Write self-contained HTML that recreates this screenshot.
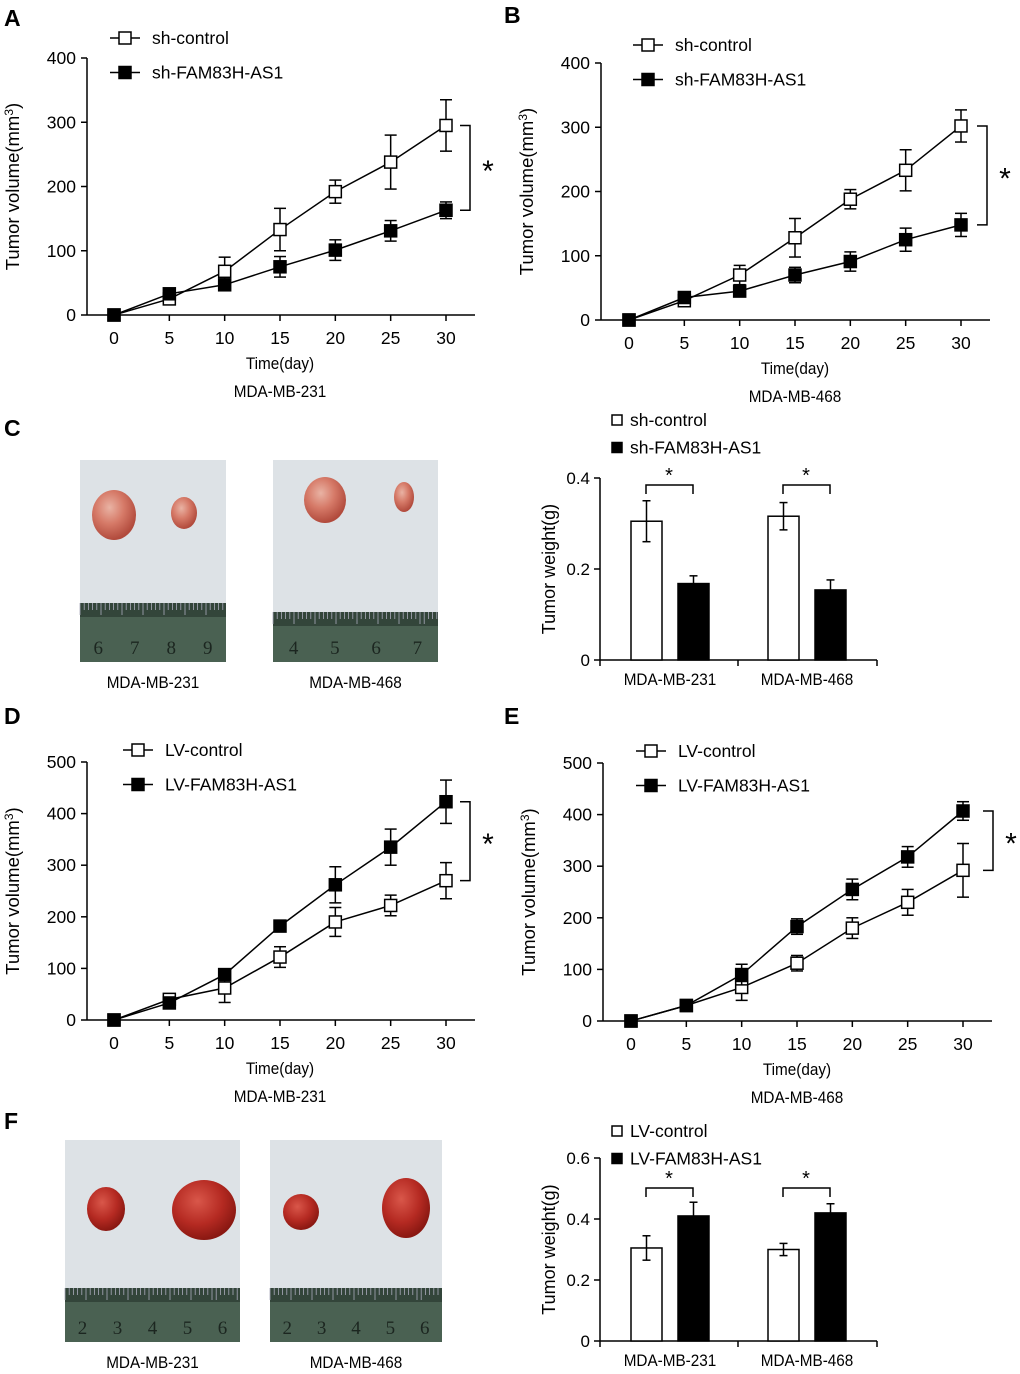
<!DOCTYPE html>
<html><head><meta charset="utf-8"><style>
html,body{margin:0;padding:0;background:#fff;}
svg{display:block;font-family:"Liberation Sans",Arial,sans-serif;}
</style></head><body>
<svg id="fig" width="1020" height="1374" viewBox="0 0 1020 1374" xmlns="http://www.w3.org/2000/svg">
<defs>
<radialGradient id="tum" cx="40%" cy="35%" r="65%"><stop offset="0" stop-color="#e9b3a4"/><stop offset="0.5" stop-color="#d67a68"/><stop offset="1" stop-color="#b14a3c"/></radialGradient>
<radialGradient id="tum2" cx="40%" cy="35%" r="65%"><stop offset="0" stop-color="#d9574a"/><stop offset="0.6" stop-color="#b52a22"/><stop offset="1" stop-color="#8a1812"/></radialGradient>
</defs>
<g font-weight="bold" font-size="23">
<text x="4" y="26">A</text><text x="504" y="23">B</text><text x="4" y="436">C</text><text x="4" y="724">D</text><text x="504" y="724">E</text><text x="4" y="1129">F</text>
</g>
</svg>
<script>
const days = [0,5,10,15,20,25,30];
const xTicks = [0,5,10,15,20,25,30];
// Panel A
const aCtrl = [0,25,68,133,192,238,295];
const aCtrlErr = [0,5,22,33,18,42,40];
const aSh = [0,33,47,75,101,131,163];
const aShErr = [0,5,6,16,16,16,13];
const aYTicks = [0,100,200,300,400];
// Panel B
const bCtrl = [0,30,70,128,188,233,302];
const bCtrlErr = [0,6,15,30,15,32,25];
const bSh = [0,35,45,70,91,125,148];
const bShErr = [0,8,8,12,15,18,18];
const bYTicks = [0,100,200,300,400];
// Panel D
const dCtrl = [0,40,62,122,190,222,270];
const dCtrlErr = [0,5,28,20,28,20,35];
const dLv = [0,33,88,182,262,335,423];
const dLvErr = [0,5,10,10,35,35,42];
const dYTicks = [0,100,200,300,400,500];
// Panel E
const eCtrl = [0,30,65,112,180,230,292];
const eCtrlErr = [0,3,25,15,20,25,52];
const eLv = [0,30,90,183,255,318,407];
const eLvErr = [0,3,20,15,20,20,18];
const eYTicks = [0,100,200,300,400,500];
// Panel C bars
const cGroups = ['MDA-MB-231','MDA-MB-468'];
const cCtrl = [0.305,0.316];
const cCtrlErr = [0.045,0.03];
const cSh = [0.168,0.154];
const cShErr = [0.017,0.022];
const cYTicks = [0,0.2,0.4];
const cYLabels = ['0','0.2','0.4'];
// Panel F bars
const fCtrl = [0.305,0.30];
const fCtrlErr = [0.04,0.02];
const fLv = [0.41,0.42];
const fLvErr = [0.045,0.03];
const fYTicks = [0,0.2,0.4,0.6];
const fYLabels = ['0','0.2','0.4','0.6'];

const NS='http://www.w3.org/2000/svg';
const svg=document.getElementById('fig');
function mk(tag,attrs,parent){const e=document.createElementNS(NS,tag);for(const k in attrs)e.setAttribute(k,attrs[k]);(parent||svg).appendChild(e);return e;}
function txt(parent,x,y,s,size,anchor){const t=mk('text',{x:x,y:y,'font-size':size||16,'text-anchor':anchor||'middle'},parent);t.textContent=s;return t;}

function lineChart(name,g,s1,e1,s2,e2,yTicks,yMax,labels,xlab){
  const grp=mk('g',{});
  
  
  const X=v=>g.x0+(v-0)/30*(g.x30-g.x0);
  const Y=v=>g.y0-v/yMax*(g.y0-g.yTop);
  const ya=mk('line',{x1:g.ax,y1:g.yTop,x2:g.ax,y2:g.y0,stroke:'#000','stroke-width':1.5},grp);
  
  
  const xa=mk('line',{x1:g.ax,y1:g.y0,x2:g.xEnd,y2:g.y0,stroke:'#000','stroke-width':1.5},grp);
  
  
  yTicks.forEach(v=>{mk('line',{x1:g.ax-6,y1:Y(v),x2:g.ax,y2:Y(v),stroke:'#000','stroke-width':1.5},grp);
    const t=txt(grp,g.ax-11,Y(v)+6,String(v),17.5,'end');
    
    });
  xTicks.forEach(v=>{mk('line',{x1:X(v),y1:g.y0,x2:X(v),y2:g.y0+6,stroke:'#000','stroke-width':1.5},grp);
    const t=txt(grp,X(v),g.y0+29,String(v),17.5);
    
    });
  const xt=txt(grp,(X(0)+X(30))/2,g.y0+54,'Time(day)',17);
  
  
  xt.setAttribute('transform','scale(0.9,1)');xt.setAttribute('x',(X(0)+X(30))/2/0.9);
  const cl=txt(grp,(X(0)+X(30))/2,g.y0+82,xlab,17);
  
  
  cl.setAttribute('transform','scale(0.9,1)');cl.setAttribute('x',(X(0)+X(30))/2/0.9);
  const yt=mk('text',{x:0,y:0,'font-size':18.5,'text-anchor':'middle',transform:`translate(${g.ax-68},${(g.yTop+g.y0)/2}) rotate(-90)`},grp);
  yt.innerHTML='Tumor volume(mm<tspan dy="-6" font-size="12">3</tspan><tspan dy="6">)</tspan>';
  
  
  function series(vals,errs,filled,sname){
    const sg=mk('g',{},grp);
    
    
    mk('polyline',{points:days.map((d,i)=>X(d)+','+Y(vals[i])).join(' '),fill:'none',stroke:'#000','stroke-width':1.5},sg);
    days.forEach((d,i)=>{const x=X(d),y1=Y(vals[i]+errs[i]),y2=Y(vals[i]-errs[i]);
      if(errs[i]>0){mk('line',{x1:x,y1:y1,x2:x,y2:y2,stroke:'#000','stroke-width':1.5},sg);
      mk('line',{x1:x-6,y1:y1,x2:x+6,y2:y1,stroke:'#000','stroke-width':1.5},sg);
      mk('line',{x1:x-6,y1:y2,x2:x+6,y2:y2,stroke:'#000','stroke-width':1.5},sg);}
      const m=mk('rect',{x:x-6,y:Y(vals[i])-6,width:12,height:12,fill:filled?'#000':'#fff',stroke:'#000','stroke-width':1.5},sg);
      
      });
  }
  series(s1,e1,false,'series-control');
  series(s2,e2,true,'series-treatment');
  [[labels[0],false],[labels[1],true]].forEach((l,i)=>{const ly=g.legY+i*34.5;
    const lg=mk('g',{},grp);
    
    
    mk('line',{x1:g.legX-15,y1:ly,x2:g.legX+15,y2:ly,stroke:'#000','stroke-width':1.5},lg);
    mk('rect',{x:g.legX-6,y:ly-6,width:12,height:12,fill:l[1]?'#000':'#fff',stroke:'#000','stroke-width':1.5},lg);
    txt(lg,g.legX+27,ly+6,l[0],17.5,'start');});
  const bx=g.bx,b1=Y(s1[6]),b2=Y(s2[6]);
  const br=mk('polyline',{points:`${bx-10},${b1} ${bx},${b1} ${bx},${b2} ${bx-10},${b2}`,fill:'none',stroke:'#000','stroke-width':1.5},grp);
  
  
  const st=txt(grp,bx+18,(b1+b2)/2+13,'*',30);
  
  
}
lineChart('chart-a',{ax:87,x0:114,x30:446,xEnd:475,y0:315,yTop:58,legX:125,legY:38,bx:470},aCtrl,aCtrlErr,aSh,aShErr,aYTicks,400,['sh-control','sh-FAM83H-AS1'],'MDA-MB-231');
lineChart('chart-b',{ax:601,x0:629,x30:961,xEnd:990,y0:320,yTop:63,legX:648,legY:45,bx:987},bCtrl,bCtrlErr,bSh,bShErr,bYTicks,400,['sh-control','sh-FAM83H-AS1'],'MDA-MB-468');
lineChart('chart-d',{ax:87,x0:114,x30:446,xEnd:475,y0:1020,yTop:762,legX:138,legY:750,bx:470},dCtrl,dCtrlErr,dLv,dLvErr,dYTicks,500,['LV-control','LV-FAM83H-AS1'],'MDA-MB-231');
lineChart('chart-e',{ax:603,x0:631,x30:963,xEnd:992,y0:1021,yTop:763,legX:651,legY:751,bx:993},eCtrl,eCtrlErr,eLv,eLvErr,eYTicks,500,['LV-control','LV-FAM83H-AS1'],'MDA-MB-468');

function barChart(name,g,c,ce,t,te,yTicks,yLabels,yMax,labels){
  const grp=mk('g',{});
  
  
  const Y=v=>g.y0-v/yMax*(g.y0-g.yTop);
  const ya=mk('line',{x1:600,y1:g.yTop,x2:600,y2:g.y0,stroke:'#000','stroke-width':1.5},grp);
  
  
  const xa=mk('line',{x1:600,y1:g.y0,x2:877,y2:g.y0,stroke:'#000','stroke-width':1.5},grp);
  
  
  [600,738,877].forEach(x=>mk('line',{x1:x,y1:g.y0,x2:x,y2:g.y0+6,stroke:'#000','stroke-width':1.5},grp));
  yTicks.forEach((v,i)=>{mk('line',{x1:594,y1:Y(v),x2:600,y2:Y(v),stroke:'#000','stroke-width':1.5},grp);
    const tl=txt(grp,590,Y(v)+6,yLabels[i],17,'end');
    
    });
  const yt=txt(grp,0,0,'Tumor weight(g)',18);
  yt.setAttribute('transform',`translate(555,${(g.yTop+g.y0)/2}) rotate(-90)`);
  
  
  const gx=[631,768];
  cGroups.forEach((gname,i)=>{
    const gl=txt(grp,(gx[i]+78/2)/0.9,g.y0+25,gname,17);
    gl.setAttribute('transform','scale(0.9,1)');
    
    
    [[c,ce,false,gx[i]],[t,te,true,gx[i]+47]].forEach(b=>{
      const v=b[0][i],e=b[1][i],x=b[3];
      const r=mk('rect',{x:x,y:Y(v),width:31,height:g.y0-Y(v),fill:b[2]?'#000':'#fff',stroke:'#000','stroke-width':1.5},grp);
      
      
      const cx=x+15.5;
      mk('line',{x1:cx,y1:Y(v+e),x2:cx,y2:Y(v-e),stroke:'#000','stroke-width':1.5},grp);
      mk('line',{x1:cx-4,y1:Y(v+e),x2:cx+4,y2:Y(v+e),stroke:'#000','stroke-width':1.5},grp);
      if(!b[2])mk('line',{x1:cx-4,y1:Y(v-e),x2:cx+4,y2:Y(v-e),stroke:'#000','stroke-width':1.5},grp);
    });
    const by=g.brY;
    const br=mk('polyline',{points:`${gx[i]+15},${by+9} ${gx[i]+15},${by} ${gx[i]+62},${by} ${gx[i]+62},${by+9}`,fill:'none',stroke:'#000','stroke-width':1.5},grp);
    
    
    const st=txt(grp,gx[i]+38,by-3,'*',20);
    
    
  });
  labels.forEach((l,i)=>{const ly=g.legY+i*27.5;
    const lg=mk('g',{},grp);
    
    
    mk('rect',{x:612,y:ly-5,width:10,height:10,fill:i?'#000':'#fff',stroke:'#000','stroke-width':1.5},lg);
    txt(lg,630,ly+6,l,17.5,'start');});
}
barChart('chart-c',{y0:660,yTop:478,brY:485,legY:420},cCtrl,cCtrlErr,cSh,cShErr,cYTicks,cYLabels,0.4,['sh-control','sh-FAM83H-AS1']);
barChart('chart-f',{y0:1341,yTop:1158,brY:1188,legY:1131},fCtrl,fCtrlErr,fLv,fLvErr,fYTicks,fYLabels,0.6,['LV-control','LV-FAM83H-AS1']);

function photo(name,x,y,w,h,rulerY,nums,tumors,grad,label){
  const grp=mk('g',{});
  
  
  mk('rect',{x:x,y:y,width:w,height:h,fill:'#dde2e6'},grp);
  mk('rect',{x:x,y:rulerY,width:w,height:y+h-rulerY,fill:'#4a6152'},grp);
  mk('rect',{x:x,y:rulerY,width:w,height:14,fill:'#33453a'},grp);
  for(let k=0;k<w;k+=4.2)mk('line',{x1:x+k,y1:rulerY,x2:x+k,y2:rulerY+((k/4.2)%5<1?12:7),stroke:'#aab','stroke-width':0.8},grp);
  nums.forEach((n,i)=>{const t=txt(grp,x+w*(i+0.5)/nums.length,y+h-8,n,19);t.setAttribute('font-family','Liberation Serif');t.setAttribute('fill','#1c2620');});
  tumors.forEach(tm=>{const e=mk('ellipse',{cx:tm[0],cy:tm[1],rx:tm[2],ry:tm[3],fill:'url(#'+grad+')'},grp);
    
    });
  const l=txt(grp,(x+w/2)/0.9,y+h+26,label,17);
  l.setAttribute('transform','scale(0.9,1)');
  
  
}
photo('photo-c-231',80,460,146,202,603,['6','7','8','9'],[[114,515,22,25],[184,513,13,16]],'tum','MDA-MB-231');
photo('photo-c-468',273,460,165,202,612,['4','5','6','7'],[[325,500,21,23],[404,497,10,15]],'tum','MDA-MB-468');
photo('photo-f-231',65,1140,175,202,1288,['2','3','4','5','6'],[[106,1209,19,22],[204,1210,32,30]],'tum2','MDA-MB-231');
photo('photo-f-468',270,1140,172,202,1288,['2','3','4','5','6'],[[301,1212,18,18],[406,1208,24,30]],'tum2','MDA-MB-468');
</script>
</body></html>
